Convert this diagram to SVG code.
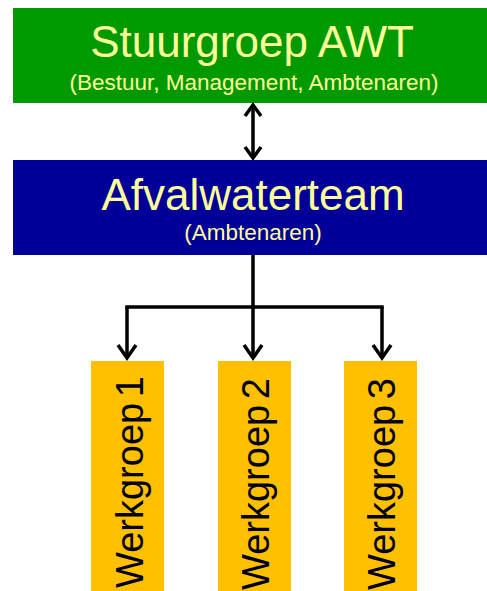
<svg xmlns="http://www.w3.org/2000/svg" width="487" height="591" viewBox="0 0 487 591">
<defs>
<style>
text{font-family:"Liberation Sans",Arial,sans-serif}
.title{font-size:44px;fill:#FFFF99;text-anchor:middle}
.sub{font-size:22.5px;fill:#FFFF99;text-anchor:middle}
.wg{font-size:38px;fill:#000;word-spacing:-5px}
.conn{stroke:#000;stroke-width:3.5;fill:none}
</style>
</defs>
<rect width="487" height="591" fill="#fff"/>
<g id="stuurgroep">
<rect x="13" y="8" width="474" height="95" fill="#009900"/>
<text class="title" x="252" y="57">Stuurgroep AWT</text>
<text class="sub" x="254" y="90">(Bestuur, Management, Ambtenaren)</text>
</g>
<g id="afvalwaterteam">
<rect x="13" y="160" width="474" height="95" fill="#000099"/>
<text class="title" x="253" y="210">Afvalwaterteam</text>
<text class="sub" x="253" y="240">(Ambtenaren)</text>
</g>
<g id="werkgroep1">
<rect x="91" y="361" width="73" height="230" fill="#FFC000"/>
<text class="wg" transform="translate(143,588) rotate(-90)">Werkgroep 1</text>
</g>
<g id="werkgroep2">
<rect x="218" y="361" width="73" height="230" fill="#FFC000"/>
<text class="wg" transform="translate(269,590) rotate(-90)">Werkgroep 2</text>
</g>
<g id="werkgroep3">
<rect x="344" y="361" width="73" height="230" fill="#FFC000"/>
<text class="wg" transform="translate(395,590) rotate(-90)">Werkgroep 3</text>
</g>
<g id="connectors">
<g class="conn">
<path d="M253,106 L253,157"/>
<path d="M253,255 L253,307 M125.25,307 L383.75,307"/>
<path d="M127,307 L127,358"/>
<path d="M253,307 L253,358"/>
<path d="M382,307 L382,358"/>
</g>
<g fill="none" stroke="#000" stroke-width="3.5">
<path d="M245,116 L253,105 L261,116"/>
<path d="M245,147 L253,158 L261,147"/>
<path d="M118,345 L127,358 L136,345"/>
<path d="M244,345 L253,358 L262,345"/>
<path d="M373,345 L382,358 L391,345"/>
</g>
</g>
</svg>
